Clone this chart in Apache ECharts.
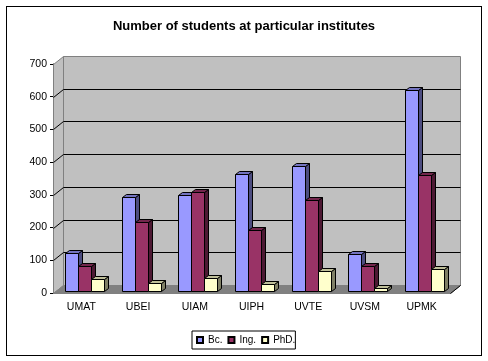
<!DOCTYPE html>
<html>
<head>
<meta charset="utf-8">
<style>
html, body { margin: 0; padding: 0; background: #fff; }
#frame { position: absolute; left: 6px; top: 6px; width: 474px; height: 348px; border: 1px solid #000; }
#main { position: absolute; left: 0; top: 0; width: 488px; height: 361px; }
</style>
<script src="https://cdn.jsdelivr.net/npm/echarts@6/dist/echarts.min.js"></script>
</head>
<body>
<div id="frame"></div>
<div id="main"></div>
<script>
const title = 'Number of students at particular institutes';
const categories = ['UMAT', 'UBEI', 'UIAM', 'UIPH', 'UVTE', 'UVSM', 'UPMK'];
const bc = [116, 287, 293, 359, 381, 112, 613];
const ing = [75, 211, 302, 187, 278, 75, 354];
const phd = [37, 24, 40, 20, 61, 9, 67];
const yTicks = [0, 100, 200, 300, 400, 500, 600, 700];

// depth of the fake 3d box, px
const wallDx = 10, wallDy = -8;
const barDx = 4, barDy = -3;
const barShiftX = 3, barShiftY = -2;
const barW = 13;

// darker shades used on top and side of the bars
const seriesStyles = [
    { name: 'Bc.', data: bc, front: '#9999ff', top: '#7373bf', side: '#4d4d80' },
    { name: 'Ing.', data: ing, front: '#993366', top: '#73264c', side: '#4d1933' },
    { name: 'PhD.', data: phd, front: '#ffffcc', top: '#bfbf99', side: '#808066' }
];

const snap = v => Math.round(v) + 0.5;
const off = (p, dx, dy) => [snap(p[0]) + dx, snap(p[1]) + dy];

// corners of the front plane, from the first and last band
const plotCorners = api => {
    const halfBand = api.size([1, 0])[0] / 2;
    const first = api.coord([0, 0])[0] - halfBand;
    const last = api.coord([categories.length - 1, 0])[0] + halfBand;
    const bottom = api.coord([0, 0])[1];
    const top = api.coord([0, 700])[1];
    return { first, last, bottom, top };
};

// back wall, left wall and floor
const renderWalls = (params, api) => {
    const { first, last, bottom, top } = plotCorners(api);
    const a = [first, bottom], b = [last, bottom], c = [first, top], d = [last, top];
    const wall = { fill: '#c0c0c0', stroke: '#808080', lineWidth: 1 };
    return {
        type: 'group',
        silent: true,
        children: [
            { type: 'polygon', shape: { points: [off(a, wallDx, wallDy), off(c, wallDx, wallDy), off(d, wallDx, wallDy), off(b, wallDx, wallDy)] }, style: wall },
            { type: 'polygon', shape: { points: [off(a, 0, 0), off(c, 0, 0), off(c, wallDx, wallDy), off(a, wallDx, wallDy)] }, style: wall },
            { type: 'polygon', shape: { points: [off(a, 0, 0), off(a, wallDx, wallDy), off(b, wallDx, wallDy), off(b, 0, 0)] }, style: { fill: '#808080', stroke: '#808080', lineWidth: 1 } },
            { type: 'polyline', shape: { points: [off(b, 0, 0), off(b, wallDx, wallDy)] }, style: { stroke: '#000', fill: null, lineWidth: 1 } }
        ]
    };
};

// grid lines go along the back wall and down the left wall
const renderGrid = (params, api) => {
    const v = api.value(1);
    const { first, last } = plotCorners(api);
    const y = api.coord([0, v])[1];
    const p = off([first, y], 0, 0);
    const back = off([first, y], wallDx, wallDy);
    const end = off([last, y], wallDx, wallDy);
    return {
        type: 'group',
        silent: true,
        children: [
            { type: 'line', shape: { x1: p[0], y1: p[1], x2: back[0], y2: back[1] }, style: { stroke: '#000', lineWidth: 1 } },
            { type: 'line', shape: { x1: back[0], y1: back[1], x2: end[0], y2: end[1] }, style: { stroke: '#000', lineWidth: 1 } }
        ]
    };
};

const renderBar = (s, idx) => (params, api) => {
    const cat = api.value(0);
    const base = api.coord([cat, 0]);
    const top = api.coord([cat, api.value(1)]);
    const x = snap(base[0] + barShiftX - barW * 1.5 + idx * barW);
    const y0 = snap(base[1] + barShiftY);
    const y1 = snap(top[1] + barShiftY);
    const line = { stroke: '#000', lineWidth: 1 };
    return {
        type: 'group',
        children: [
            { type: 'polygon', shape: { points: [[x + barW, y1], [x + barW + barDx, y1 + barDy], [x + barW + barDx, y0 + barDy], [x + barW, y0]] }, style: { fill: s.side, ...line } },
            { type: 'polygon', shape: { points: [[x, y1], [x + barDx, y1 + barDy], [x + barW + barDx, y1 + barDy], [x + barW, y1]] }, style: { fill: s.top, ...line } },
            { type: 'rect', shape: { x: x, y: y1, width: barW, height: y0 - y1 }, style: { fill: s.front, ...line } }
        ]
    };
};

const barSeries = seriesStyles.map((s, i) => ({
    name: s.name,
    type: 'custom',
    renderItem: renderBar(s, i),
    encode: { x: 0, y: 1 },
    data: s.data.map((v, k) => [k, v]),
    itemStyle: { color: s.front, borderColor: '#000', borderWidth: 1 },
    z: 5 + i
}));

const textStyle = { fontFamily: '"Liberation Sans", Arial, sans-serif', color: '#000' };

const myChart = echarts.init(document.getElementById('main'), null, { renderer: 'canvas' });
myChart.setOption({
    animation: false,
    title: {
        text: title,
        left: 'center',
        top: 15,
        textStyle: { ...textStyle, fontSize: 13, fontWeight: 'bold' }
    },
    legend: {
        data: seriesStyles.map(s => s.name),
        left: 192,
        top: 331,
        padding: [4, 0, 4, 4],
        itemGap: 5,
        itemWidth: 6,
        itemHeight: 6,
        icon: 'rect',
        borderColor: '#000',
        borderWidth: 1,
        textStyle: { ...textStyle, fontSize: 10 }
    },
    grid: { left: 53, right: 38, top: 64, bottom: 68 },
    xAxis: {
        type: 'category',
        data: categories,
        axisLine: { lineStyle: { color: '#000', width: 1 } },
        axisTick: { alignWithLabel: false, length: 3, lineStyle: { color: '#000' } },
        axisLabel: { ...textStyle, fontSize: 10.5, margin: 9 },
        splitLine: { show: false }
    },
    yAxis: {
        type: 'value',
        min: 0,
        max: 700,
        interval: 100,
        axisLine: { show: true, lineStyle: { color: '#000', width: 1 } },
        axisTick: { show: true, length: 3, lineStyle: { color: '#000' } },
        axisLabel: { ...textStyle, fontSize: 10.5, margin: 6 },
        splitLine: { show: false }
    },
    series: [
        { type: 'custom', renderItem: renderWalls, data: [[0, 0]], encode: { x: 0, y: 1 }, z: 1, silent: true },
        { type: 'custom', renderItem: renderGrid, data: yTicks.slice(1, -1).map(v => [0, v]), encode: { x: 0, y: 1 }, z: 2, silent: true },
        ...barSeries
    ]
});
</script>
</body>
</html>
